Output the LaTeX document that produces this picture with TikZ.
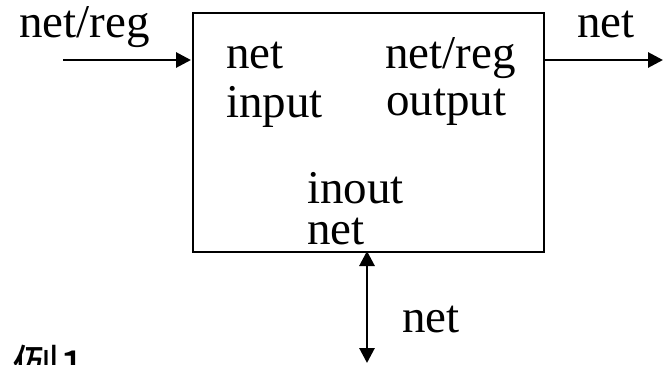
\documentclass[tikz,border=0pt]{standalone}
\usepackage{fontspec}
\setmainfont{Liberation Serif}
\newfontfamily\cjk{Noto Sans CJK SC}
\usetikzlibrary{arrows.meta}
\tikzset{
  lbl/.style={anchor=base west, inner sep=0pt, font=\fontsize{47bp}{52bp}\selectfont},
  sig/.style={line width=2.9bp, -{Triangle[length=15bp,width=15bp]}},
  bisig/.style={line width=2.9bp, {Triangle[length=15bp,width=15bp]}-{Triangle[length=15bp,width=15bp]}},
  modbox/.style={draw, line width=2.2bp, minimum width=351bp, minimum height=239bp, inner sep=0pt}
}
\begin{document}
\begin{tikzpicture}[x=1bp,y=-1bp]
\useasboundingbox (0,0) rectangle (663,364);
\clip (0,0) rectangle (663,364);
\node[modbox, anchor=north west] (box) at (192,12) {};
\coordinate (inL) at (63,60);
\coordinate (inR) at (191,60);
\coordinate (outL) at (543,60);
\coordinate (outR) at (663,60);
\coordinate (ioT) at (367,251);
\coordinate (ioB) at (367,363);
\draw[sig] (inL) -- (inR);
\draw[sig] (outL) -- (outR);
\draw[bisig] (ioT) -- (ioB);
\node[lbl] (t1) at (19,37) {net/reg};
\node[lbl] (t2) at (577,37) {net};
\node[lbl] (t3) at (226,68) {net};
\node[lbl] (t4) at (226,117) {input};
\node[lbl] (t5) at (385,68) {net/reg};
\node[lbl] (t6) at (386,115) {output};
\node[lbl] (t7) at (307,203) {inout};
\node[lbl] (t8) at (307,244) {net};
\node[lbl] (t9) at (402,332) {net};
\node[lbl, font=\fontsize{47bp}{52bp}\selectfont\cjk] (t10) at (12,384) {例1};
\end{tikzpicture}
\end{document}
